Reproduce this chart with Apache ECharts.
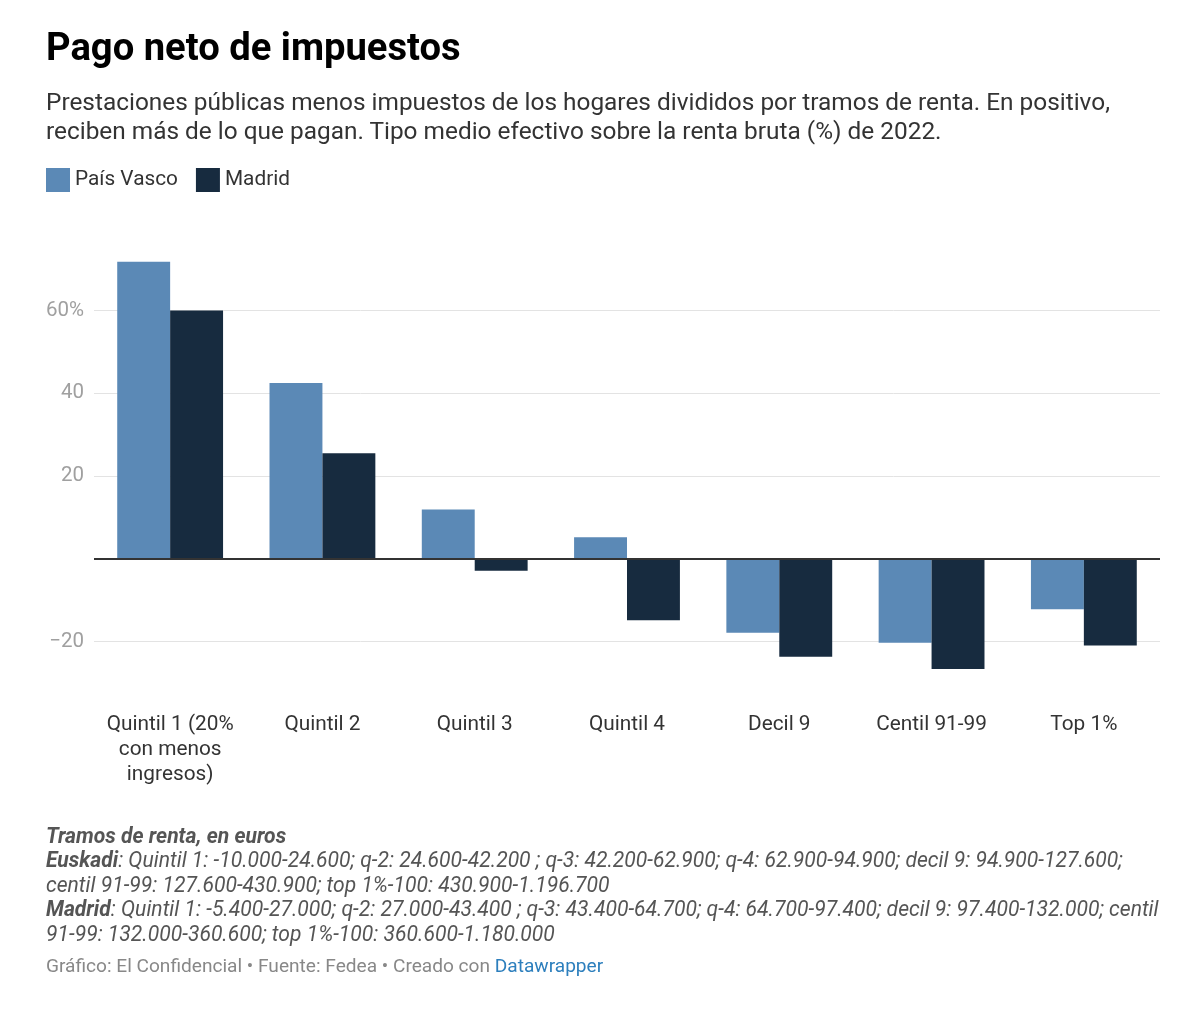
<!DOCTYPE html>
<html>
<head>
<meta charset="utf-8">
<script src="https://cdn.jsdelivr.net/npm/echarts@6/dist/echarts.min.js"></script>
<style>
  html, body { margin: 0; padding: 0; background: #fff; }
  body { width: 1200px; height: 1015px; position: relative; overflow: hidden; font-family: Roboto, "Noto Sans", sans-serif; }
  #chart { position: absolute; left: 0; top: 0; width: 1200px; height: 1015px; }
  .txt { position: absolute; left: 46px; white-space: nowrap; }
  #title { top: 23px; font-size: 38.2px; font-weight: 700; color: #000; line-height: 48px; }
  #subtitle { top: 87px; font-size: 24.4px; color: #333; line-height: 29px; }
  #notes { top: 823.5px; font-size: 21.1px; font-style: italic; color: #555; line-height: 24.5px; }
  #notes b { color: #555; font-weight: 700; }
  #source { top: 955px; font-size: 19.1px; color: #888; line-height: 22px; }
  #source a { color: #2d7fbd; text-decoration: none; }
</style>
</head>
<body>
<div id="chart"></div>
<div class="txt" id="title">Pago neto de impuestos</div>
<div class="txt" id="subtitle">Prestaciones públicas menos impuestos de los hogares divididos por tramos de renta. En positivo,<br>reciben más de lo que pagan. Tipo medio efectivo sobre la renta bruta (%) de 2022.</div>
<div class="txt" id="notes"><b>Tramos de renta, en euros</b><br><b>Euskadi</b>: Quintil 1: -10.000-24.600; q-2: 24.600-42.200 ; q-3: 42.200-62.900; q-4: 62.900-94.900; decil 9: 94.900-127.600;<br>centil 91-99: 127.600-430.900; top 1%-100: 430.900-1.196.700<br><b>Madrid</b>: Quintil 1: -5.400-27.000; q-2: 27.000-43.400 ; q-3: 43.400-64.700; q-4: 64.700-97.400; decil 9: 97.400-132.000; centil<br>91-99: 132.000-360.600; top 1%-100: 360.600-1.180.000</div>
<div class="txt" id="source">Gráfico: El Confidencial • Fuente: Fedea • Creado con <a>Datawrapper</a></div>
<script>
const categories = ['Quintil 1 (20%\ncon menos\ningresos)', 'Quintil 2', 'Quintil 3', 'Quintil 4', 'Decil 9', 'Centil 91-99', 'Top 1%'];
const seriesNames = ['País Vasco', 'Madrid'];
const paisVasco = [71.8, 42.5, 11.9, 5.2, -17.9, -20.3, -12.2];
const madrid = [60.0, 25.5, -2.9, -14.9, -23.7, -26.7, -21.0];
const yTickValues = [-20, 0, 20, 40, 60];
const yTickLabels = ['−20', '', '20', '40', '60%'];

const colors = ['#5b89b6', '#172b3f'];
const chart = echarts.init(document.getElementById('chart'), null, { renderer: 'canvas' });

const yMin = -40, yMax = 80, yInterval = 20;
const lineColors = [];
for (let v = yMin; v <= yMax; v += yInterval) {
  lineColors.push(yTickValues.indexOf(v) >= 0 ? '#e3e3e3' : 'rgba(0,0,0,0)');
}

chart.setOption({
  animation: false,
  textStyle: { fontFamily: 'Roboto' },
  color: colors,
  legend: {
    left: 41, top: 163,
    itemWidth: 24, itemHeight: 24, itemGap: 18,
    icon: 'rect',
    textStyle: { fontSize: 20.8, color: '#333', fontFamily: 'Roboto' },
    selectedMode: false,
    data: seriesNames
  },
  grid: { left: 94, right: 40, top: 227.9, bottom: 1015 - 724.1, containLabel: false },
  xAxis: {
    type: 'category',
    data: categories,
    axisLine: { show: false, onZero: false },
    axisTick: { show: false },
    axisLabel: { margin: -12, fontSize: 20.8, color: '#333', lineHeight: 25, interval: 0, fontFamily: 'Roboto' },
    splitLine: { show: false }
  },
  yAxis: {
    type: 'value',
    min: yMin, max: yMax, interval: yInterval,
    axisLine: { show: false },
    axisTick: { show: false },
    axisLabel: {
      margin: 10, fontSize: 20.5, color: '#a0a0a0', fontFamily: 'Roboto',
      formatter: function (v) { const i = yTickValues.indexOf(v); return i >= 0 ? yTickLabels[i] : ''; }
    },
    splitLine: { show: true, lineStyle: { color: lineColors, width: 1 } }
  },
  series: [
    {
      name: seriesNames[0], type: 'bar', data: paisVasco,
      barGap: '0%', barCategoryGap: '30.5%',
      itemStyle: { color: colors[0] },
      markLine: {
        silent: true, symbol: 'none', label: { show: false },
        lineStyle: { color: '#333', width: 2, type: 'solid' },
        data: [{ yAxis: 0 }]
      }
    },
    {
      name: seriesNames[1], type: 'bar', data: madrid,
      barGap: '0%', barCategoryGap: '30.5%',
      itemStyle: { color: colors[1] }
    }
  ]
});
</script>
</body>
</html>
